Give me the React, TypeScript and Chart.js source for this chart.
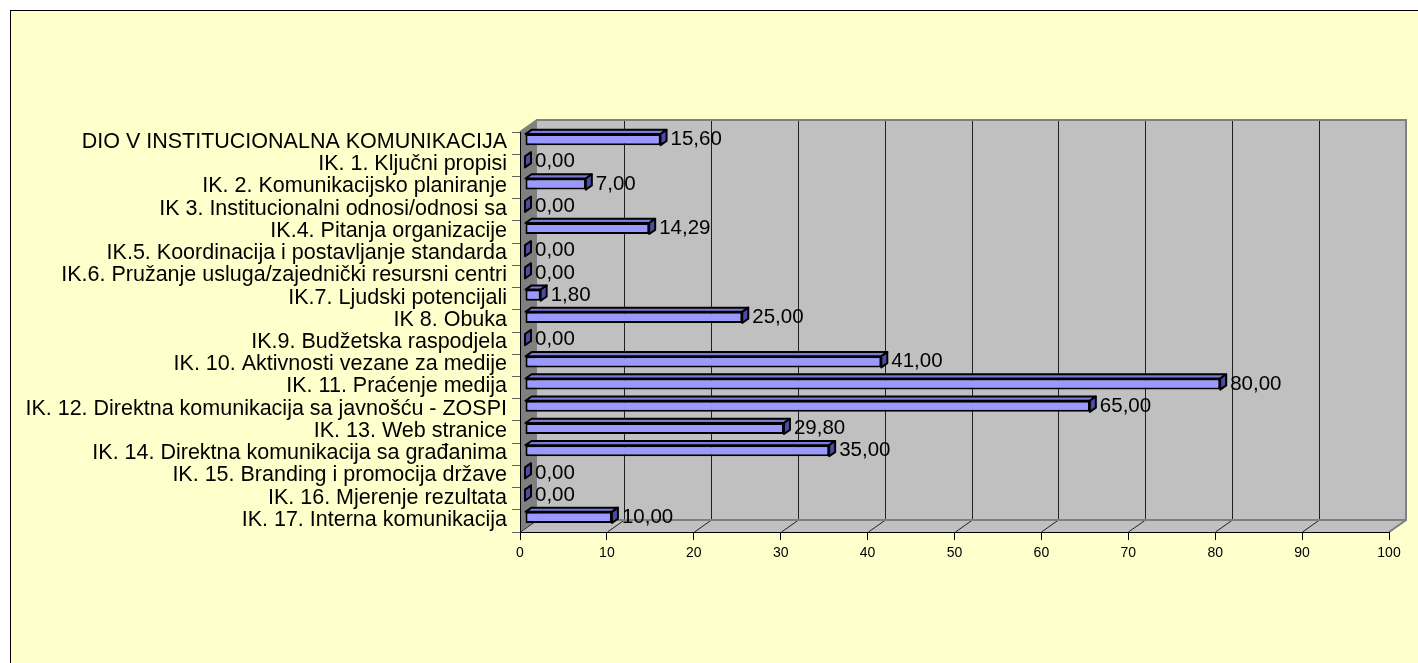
import React, { useEffect, useRef } from 'react';
import { Chart, registerables } from 'chart.js';

Chart.register(...registerables);

const categories: string[] = [
  'DIO V INSTITUCIONALNA KOMUNIKACIJA',
  'IK. 1. Ključni propisi',
  'IK. 2. Komunikacijsko planiranje',
  'IK 3. Institucionalni odnosi/odnosi sa',
  'IK.4. Pitanja organizacije',
  'IK.5. Koordinacija i postavljanje standarda',
  'IK.6. Pružanje usluga/zajednički resursni centri',
  'IK.7. Ljudski potencijali',
  'IK 8. Obuka',
  'IK.9. Budžetska raspodjela',
  'IK. 10. Aktivnosti vezane za medije',
  'IK. 11. Praćenje medija',
  'IK. 12. Direktna komunikacija sa javnošću - ZOSPI',
  'IK. 13. Web stranice',
  'IK. 14. Direktna komunikacija sa građanima',
  'IK. 15. Branding i promocija države',
  'IK. 16. Mjerenje rezultata',
  'IK. 17. Interna komunikacija',
];

const values: number[] = [15.6, 0, 7, 0, 14.29, 0, 0, 1.8, 25, 0, 41, 80, 65, 29.8, 35, 0, 0, 10];

const axisMin = 0;
const axisMax = 100;
const axisStep = 10;

const FONT = '"Liberation Sans", Arial, sans-serif';
const WALL_DX = 17;
const WALL_DY = 12;
const BAR_SHIFT_X = 5;
const BAR_SHIFT_Y = 3.5;
const BAR_DX = 6;
const BAR_DY = 4.2;

const fmt = (v: number) => v.toFixed(2).replace('.', ',');

const threeDPlugin = {
  id: 'threeD',
  beforeDraw(chart: any) {
    const ctx: CanvasRenderingContext2D = chart.ctx;
    const { left: L, right: R, top: T, bottom: B } = chart.chartArea;
    const xs = chart.scales.x;
    ctx.save();
    ctx.fillStyle = '#ffffff';
    ctx.fillRect(0, 0, chart.width, chart.height);
    ctx.fillStyle = '#ffffcc';
    ctx.fillRect(10, 10, chart.width, chart.height);
    ctx.strokeStyle = '#000000';
    ctx.lineWidth = 1;
    ctx.strokeRect(10.5, 10.5, chart.width + 50, chart.height + 50);

    // back wall
    ctx.fillStyle = '#c0c0c0';
    ctx.fillRect(L + WALL_DX, T - WALL_DY, R - L, B - T);
    // side wall
    ctx.fillStyle = '#808080';
    ctx.beginPath();
    ctx.moveTo(L, T);
    ctx.lineTo(L + WALL_DX, T - WALL_DY);
    ctx.lineTo(L + WALL_DX, B - WALL_DY);
    ctx.lineTo(L, B);
    ctx.closePath();
    ctx.fill();
    // floor
    ctx.fillStyle = '#c0c0c0';
    ctx.beginPath();
    ctx.moveTo(L, B);
    ctx.lineTo(L + WALL_DX, B - WALL_DY);
    ctx.lineTo(R + WALL_DX, B - WALL_DY);
    ctx.lineTo(R, B);
    ctx.closePath();
    ctx.fill();

    // gridlines on back wall and floor
    ctx.strokeStyle = '#202020';
    ctx.lineWidth = 1;
    xs.ticks.forEach((t: any) => {
      const px = Math.round(xs.getPixelForValue(t.value));
      if (t.value > axisMin && t.value < axisMax) {
        ctx.beginPath();
        ctx.moveTo(px + WALL_DX + 0.5, T - WALL_DY);
        ctx.lineTo(px + WALL_DX + 0.5, B - WALL_DY);
        ctx.stroke();
      }
      ctx.beginPath();
      ctx.moveTo(px + 0.5, B);
      ctx.lineTo(px + WALL_DX + 0.5, B - WALL_DY);
      ctx.stroke();
    });

    // edges
    ctx.strokeStyle = '#808080';
    ctx.lineWidth = 2;
    ctx.beginPath();
    ctx.moveTo(L, T);
    ctx.lineTo(L + WALL_DX, T - WALL_DY);
    ctx.lineTo(R + WALL_DX, T - WALL_DY);
    ctx.lineTo(R + WALL_DX, B - WALL_DY);
    ctx.lineTo(R, B);
    ctx.stroke();
    ctx.beginPath();
    ctx.moveTo(L + WALL_DX, B - WALL_DY);
    ctx.lineTo(R + WALL_DX, B - WALL_DY);
    ctx.stroke();
    ctx.restore();
  },
  beforeDatasetsDraw(chart: any) {
    const ctx: CanvasRenderingContext2D = chart.ctx;
    ctx.save();
    ctx.translate(BAR_SHIFT_X, -BAR_SHIFT_Y);
  },
  afterDatasetsDraw(chart: any) {
    const ctx: CanvasRenderingContext2D = chart.ctx;
    const meta = chart.getDatasetMeta(0);
    const els = meta.data;
    els.forEach((el: any) => {
      const p = el.getProps(['x', 'y', 'base', 'height'], true);
      const left = Math.min(p.x, p.base);
      const right = Math.max(p.x, p.base);
      const top = p.y - p.height / 2;
      const bottom = p.y + p.height / 2;
      ctx.lineWidth = 2;
      ctx.lineJoin = 'round';
      ctx.strokeStyle = '#000000';
      if (right - left > 0.5) {
        ctx.fillStyle = '#7b7bdc';
        ctx.beginPath();
        ctx.moveTo(left, top);
        ctx.lineTo(left + BAR_DX, top - BAR_DY);
        ctx.lineTo(right + BAR_DX, top - BAR_DY);
        ctx.lineTo(right, top);
        ctx.closePath();
        ctx.fill();
        ctx.stroke();
      }
      ctx.fillStyle = '#4c4ca6';
      ctx.beginPath();
      ctx.moveTo(right, top);
      ctx.lineTo(right + BAR_DX, top - BAR_DY);
      ctx.lineTo(right + BAR_DX, bottom - BAR_DY);
      ctx.lineTo(right, bottom);
      ctx.closePath();
      ctx.fill();
      ctx.stroke();
    });
    ctx.restore();

    ctx.save();
    ctx.fillStyle = '#000000';
    ctx.font = `20.5px ${FONT}`;
    ctx.textAlign = 'left';
    ctx.textBaseline = 'middle';
    const data = chart.data.datasets[0].data as number[];
    els.forEach((el: any, i: number) => {
      const p = el.getProps(['x', 'y', 'base'], true);
      const right = Math.max(p.x, p.base);
      ctx.fillText(fmt(data[i]), right + BAR_SHIFT_X + BAR_DX + 4, p.y - BAR_SHIFT_Y);
    });
    ctx.restore();
  },
};

export default function App() {
  const ref = useRef<HTMLCanvasElement>(null);
  useEffect(() => {
    if (!ref.current) return;
    Chart.defaults.font.family = FONT;
    const chart = new Chart(ref.current, {
      type: 'bar',
      data: {
        labels: categories,
        datasets: [
          {
            data: values,
            backgroundColor: '#9999ff',
            borderColor: '#000000',
            borderWidth: 2,
            borderSkipped: false,
            barPercentage: 0.5,
            categoryPercentage: 1,
            clip: false as any,
          },
        ],
      },
      options: {
        indexAxis: 'y',
        animation: false,
        responsive: false,
        devicePixelRatio: 1,
        layout: { padding: { top: 132, right: 29, left: 0, bottom: 0 } },
        plugins: { legend: { display: false }, tooltip: { enabled: false } },
        scales: {
          x: {
            type: 'linear',
            min: axisMin,
            max: axisMax,
            ticks: {
              stepSize: axisStep,
              color: '#000000',
              font: { size: 14, family: FONT },
              padding: 5,
            },
            grid: { drawOnChartArea: false, drawTicks: true, tickLength: 8, color: '#000000' },
            border: { display: true, color: '#000000', width: 1 },
            afterFit: (s: any) => {
              s.height = 131;
            },
          },
          y: {
            type: 'category',
            ticks: {
              color: '#000000',
              font: { size: 21.5, family: FONT },
              padding: 5,
              labelOffset: -1,
              autoSkip: false,
            },
            grid: { drawOnChartArea: false, drawTicks: true, tickLength: 8, color: '#606060' },
            border: { display: true, color: '#000000', width: 1 },
            afterFit: (s: any) => {
              s.width = 520;
            },
          },
        },
      },
      plugins: [threeDPlugin],
    });
    return () => chart.destroy();
  }, []);
  return (
    <div style={{ position: 'absolute', left: 0, top: 0, width: 1418, height: 663 }}>
      <canvas ref={ref} width={1418} height={663} style={{ display: 'block' }} />
    </div>
  );
}
